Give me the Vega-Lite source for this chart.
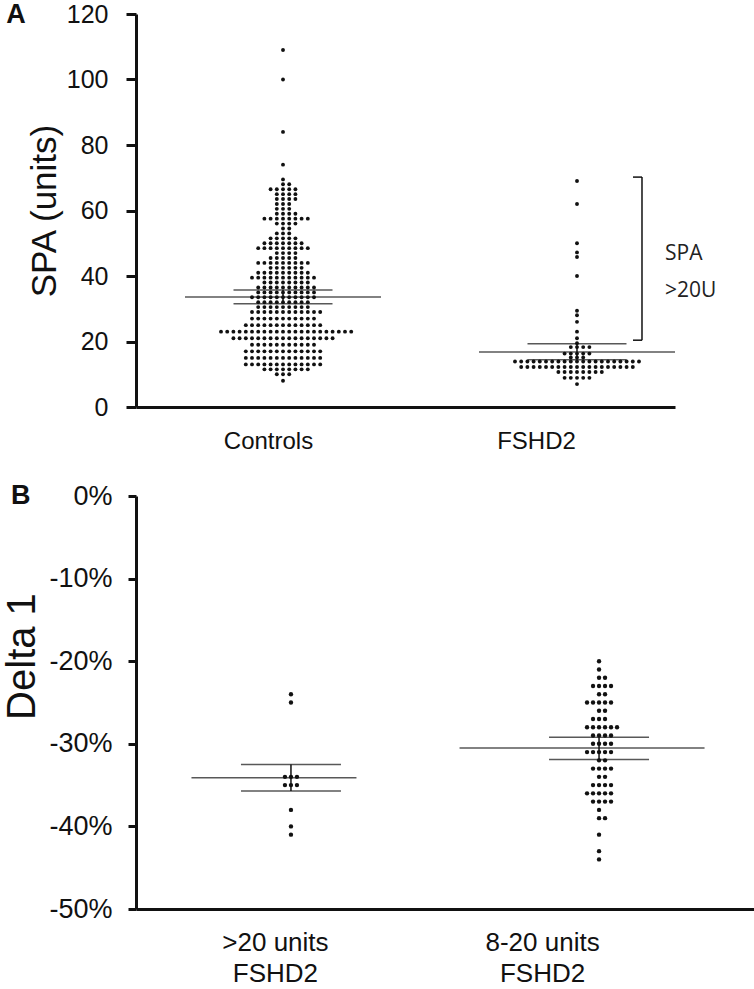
{
"$schema":"https://vega.github.io/schema/vega-lite/v6.json",
"background":"white",
"padding":{"left":2,"top":1,"right":0,"bottom":0},
"config":{"view":{"stroke":null},"font":"Liberation Sans","axis":{"grid":false,"domainColor":"#111","tickColor":"#111","labelColor":"#111","titleColor":"#111","titleFontWeight":"normal","domainWidth":3,"tickWidth":3},"title":{"color":"#111"}},
"spacing":29,
"datasets":{
"spa":[
{"group":"Controls","spa":109},{"group":"Controls","spa":100},{"group":"Controls","spa":84},{"group":"Controls","spa":74},{"group":"Controls","spa":69.5},{"group":"Controls","spa":68},{"group":"Controls","spa":68},
{"group":"Controls","spa":66.5},{"group":"Controls","spa":66.5},{"group":"Controls","spa":66.5},{"group":"Controls","spa":66.5},{"group":"Controls","spa":66.5},
{"group":"Controls","spa":65},{"group":"Controls","spa":65},{"group":"Controls","spa":65},{"group":"Controls","spa":65},
{"group":"Controls","spa":63.5},{"group":"Controls","spa":63.5},{"group":"Controls","spa":63.5},{"group":"Controls","spa":63.5},
{"group":"Controls","spa":62},{"group":"Controls","spa":62},{"group":"Controls","spa":62},
{"group":"Controls","spa":60.5},{"group":"Controls","spa":60.5},{"group":"Controls","spa":60.5},
{"group":"Controls","spa":59},{"group":"Controls","spa":59},{"group":"Controls","spa":59},{"group":"Controls","spa":59},
{"group":"Controls","spa":57.5},{"group":"Controls","spa":57.5},{"group":"Controls","spa":57.5},{"group":"Controls","spa":57.5},{"group":"Controls","spa":57.5},{"group":"Controls","spa":57.5},{"group":"Controls","spa":57.5},{"group":"Controls","spa":57.5},
{"group":"Controls","spa":56},{"group":"Controls","spa":56},{"group":"Controls","spa":56},{"group":"Controls","spa":56},
{"group":"Controls","spa":54.5},{"group":"Controls","spa":54.5},
{"group":"Controls","spa":53},{"group":"Controls","spa":53},{"group":"Controls","spa":53},
{"group":"Controls","spa":51.5},{"group":"Controls","spa":51.5},{"group":"Controls","spa":51.5},{"group":"Controls","spa":51.5},{"group":"Controls","spa":51.5},
{"group":"Controls","spa":50},{"group":"Controls","spa":50},{"group":"Controls","spa":50},{"group":"Controls","spa":50},{"group":"Controls","spa":50},{"group":"Controls","spa":50},{"group":"Controls","spa":50},
{"group":"Controls","spa":48.5},{"group":"Controls","spa":48.5},{"group":"Controls","spa":48.5},{"group":"Controls","spa":48.5},{"group":"Controls","spa":48.5},{"group":"Controls","spa":48.5},{"group":"Controls","spa":48.5},{"group":"Controls","spa":48.5},{"group":"Controls","spa":48.5},
{"group":"Controls","spa":47},{"group":"Controls","spa":47},{"group":"Controls","spa":47},{"group":"Controls","spa":47},
{"group":"Controls","spa":45.5},{"group":"Controls","spa":45.5},{"group":"Controls","spa":45.5},{"group":"Controls","spa":45.5},{"group":"Controls","spa":45.5},
{"group":"Controls","spa":44},{"group":"Controls","spa":44},{"group":"Controls","spa":44},{"group":"Controls","spa":44},{"group":"Controls","spa":44},{"group":"Controls","spa":44},{"group":"Controls","spa":44},{"group":"Controls","spa":44},{"group":"Controls","spa":44},
{"group":"Controls","spa":42.5},{"group":"Controls","spa":42.5},{"group":"Controls","spa":42.5},{"group":"Controls","spa":42.5},{"group":"Controls","spa":42.5},{"group":"Controls","spa":42.5},
{"group":"Controls","spa":41},{"group":"Controls","spa":41},{"group":"Controls","spa":41},{"group":"Controls","spa":41},{"group":"Controls","spa":41},{"group":"Controls","spa":41},{"group":"Controls","spa":41},{"group":"Controls","spa":41},{"group":"Controls","spa":41},
{"group":"Controls","spa":39.5},{"group":"Controls","spa":39.5},{"group":"Controls","spa":39.5},{"group":"Controls","spa":39.5},{"group":"Controls","spa":39.5},{"group":"Controls","spa":39.5},{"group":"Controls","spa":39.5},{"group":"Controls","spa":39.5},{"group":"Controls","spa":39.5},{"group":"Controls","spa":39.5},{"group":"Controls","spa":39.5},
{"group":"Controls","spa":38},{"group":"Controls","spa":38},{"group":"Controls","spa":38},{"group":"Controls","spa":38},{"group":"Controls","spa":38},{"group":"Controls","spa":38},{"group":"Controls","spa":38},{"group":"Controls","spa":38},
{"group":"Controls","spa":36.5},{"group":"Controls","spa":36.5},{"group":"Controls","spa":36.5},{"group":"Controls","spa":36.5},{"group":"Controls","spa":36.5},{"group":"Controls","spa":36.5},{"group":"Controls","spa":36.5},{"group":"Controls","spa":36.5},{"group":"Controls","spa":36.5},{"group":"Controls","spa":36.5},
{"group":"Controls","spa":35},{"group":"Controls","spa":35},{"group":"Controls","spa":35},{"group":"Controls","spa":35},{"group":"Controls","spa":35},{"group":"Controls","spa":35},{"group":"Controls","spa":35},{"group":"Controls","spa":35},{"group":"Controls","spa":35},{"group":"Controls","spa":35},
{"group":"Controls","spa":33.5},{"group":"Controls","spa":33.5},{"group":"Controls","spa":33.5},{"group":"Controls","spa":33.5},{"group":"Controls","spa":33.5},{"group":"Controls","spa":33.5},{"group":"Controls","spa":33.5},{"group":"Controls","spa":33.5},{"group":"Controls","spa":33.5},{"group":"Controls","spa":33.5},{"group":"Controls","spa":33.5},
{"group":"Controls","spa":32},{"group":"Controls","spa":32},{"group":"Controls","spa":32},{"group":"Controls","spa":32},{"group":"Controls","spa":32},{"group":"Controls","spa":32},{"group":"Controls","spa":32},{"group":"Controls","spa":32},{"group":"Controls","spa":32},
{"group":"Controls","spa":30.5},{"group":"Controls","spa":30.5},{"group":"Controls","spa":30.5},{"group":"Controls","spa":30.5},{"group":"Controls","spa":30.5},{"group":"Controls","spa":30.5},{"group":"Controls","spa":30.5},{"group":"Controls","spa":30.5},{"group":"Controls","spa":30.5},
{"group":"Controls","spa":29},{"group":"Controls","spa":29},{"group":"Controls","spa":29},{"group":"Controls","spa":29},{"group":"Controls","spa":29},{"group":"Controls","spa":29},{"group":"Controls","spa":29},{"group":"Controls","spa":29},{"group":"Controls","spa":29},{"group":"Controls","spa":29},{"group":"Controls","spa":29},{"group":"Controls","spa":29},
{"group":"Controls","spa":27},{"group":"Controls","spa":27},{"group":"Controls","spa":27},{"group":"Controls","spa":27},{"group":"Controls","spa":27},{"group":"Controls","spa":27},{"group":"Controls","spa":27},{"group":"Controls","spa":27},{"group":"Controls","spa":27},{"group":"Controls","spa":27},{"group":"Controls","spa":27},
{"group":"Controls","spa":25},{"group":"Controls","spa":25},{"group":"Controls","spa":25},{"group":"Controls","spa":25},{"group":"Controls","spa":25},{"group":"Controls","spa":25},{"group":"Controls","spa":25},{"group":"Controls","spa":25},{"group":"Controls","spa":25},{"group":"Controls","spa":25},{"group":"Controls","spa":25},{"group":"Controls","spa":25},{"group":"Controls","spa":25},
{"group":"Controls","spa":23},{"group":"Controls","spa":23},{"group":"Controls","spa":23},{"group":"Controls","spa":23},{"group":"Controls","spa":23},{"group":"Controls","spa":23},{"group":"Controls","spa":23},{"group":"Controls","spa":23},{"group":"Controls","spa":23},{"group":"Controls","spa":23},{"group":"Controls","spa":23},{"group":"Controls","spa":23},{"group":"Controls","spa":23},{"group":"Controls","spa":23},{"group":"Controls","spa":23},{"group":"Controls","spa":23},{"group":"Controls","spa":23},{"group":"Controls","spa":23},{"group":"Controls","spa":23},{"group":"Controls","spa":23},{"group":"Controls","spa":23},{"group":"Controls","spa":23},
{"group":"Controls","spa":21},{"group":"Controls","spa":21},{"group":"Controls","spa":21},{"group":"Controls","spa":21},{"group":"Controls","spa":21},{"group":"Controls","spa":21},{"group":"Controls","spa":21},{"group":"Controls","spa":21},{"group":"Controls","spa":21},{"group":"Controls","spa":21},{"group":"Controls","spa":21},{"group":"Controls","spa":21},{"group":"Controls","spa":21},{"group":"Controls","spa":21},{"group":"Controls","spa":21},{"group":"Controls","spa":21},{"group":"Controls","spa":21},
{"group":"Controls","spa":19},{"group":"Controls","spa":19},{"group":"Controls","spa":19},{"group":"Controls","spa":19},{"group":"Controls","spa":19},{"group":"Controls","spa":19},{"group":"Controls","spa":19},{"group":"Controls","spa":19},{"group":"Controls","spa":19},{"group":"Controls","spa":19},{"group":"Controls","spa":19},
{"group":"Controls","spa":17},{"group":"Controls","spa":17},{"group":"Controls","spa":17},{"group":"Controls","spa":17},{"group":"Controls","spa":17},{"group":"Controls","spa":17},{"group":"Controls","spa":17},{"group":"Controls","spa":17},{"group":"Controls","spa":17},{"group":"Controls","spa":17},{"group":"Controls","spa":17},{"group":"Controls","spa":17},{"group":"Controls","spa":17},
{"group":"Controls","spa":15},{"group":"Controls","spa":15},{"group":"Controls","spa":15},{"group":"Controls","spa":15},{"group":"Controls","spa":15},{"group":"Controls","spa":15},{"group":"Controls","spa":15},{"group":"Controls","spa":15},{"group":"Controls","spa":15},{"group":"Controls","spa":15},{"group":"Controls","spa":15},{"group":"Controls","spa":15},{"group":"Controls","spa":15},
{"group":"Controls","spa":13},{"group":"Controls","spa":13},{"group":"Controls","spa":13},{"group":"Controls","spa":13},{"group":"Controls","spa":13},{"group":"Controls","spa":13},{"group":"Controls","spa":13},{"group":"Controls","spa":13},{"group":"Controls","spa":13},{"group":"Controls","spa":13},{"group":"Controls","spa":13},{"group":"Controls","spa":13},{"group":"Controls","spa":13},
{"group":"Controls","spa":11.5},{"group":"Controls","spa":11.5},{"group":"Controls","spa":11.5},{"group":"Controls","spa":11.5},{"group":"Controls","spa":11.5},{"group":"Controls","spa":11.5},{"group":"Controls","spa":11.5},{"group":"Controls","spa":11.5},
{"group":"Controls","spa":10},{"group":"Controls","spa":10},{"group":"Controls","spa":10},
{"group":"Controls","spa":8},
{"group":"FSHD2","spa":69},{"group":"FSHD2","spa":62},{"group":"FSHD2","spa":50},{"group":"FSHD2","spa":47.2},{"group":"FSHD2","spa":45.8},{"group":"FSHD2","spa":40},{"group":"FSHD2","spa":29.4},{"group":"FSHD2","spa":28},{"group":"FSHD2","spa":26},{"group":"FSHD2","spa":23},{"group":"FSHD2","spa":21},{"group":"FSHD2","spa":19.5},
{"group":"FSHD2","spa":18.3},{"group":"FSHD2","spa":18.3},{"group":"FSHD2","spa":18.3},{"group":"FSHD2","spa":18.3},
{"group":"FSHD2","spa":16.3},{"group":"FSHD2","spa":16.3},{"group":"FSHD2","spa":16.3},{"group":"FSHD2","spa":16.3},{"group":"FSHD2","spa":16.3},
{"group":"FSHD2","spa":15.1},{"group":"FSHD2","spa":15.1},{"group":"FSHD2","spa":15.1},
{"group":"FSHD2","spa":13.9},{"group":"FSHD2","spa":13.9},{"group":"FSHD2","spa":13.9},{"group":"FSHD2","spa":13.9},{"group":"FSHD2","spa":13.9},{"group":"FSHD2","spa":13.9},{"group":"FSHD2","spa":13.9},{"group":"FSHD2","spa":13.9},{"group":"FSHD2","spa":13.9},{"group":"FSHD2","spa":13.9},{"group":"FSHD2","spa":13.9},{"group":"FSHD2","spa":13.9},{"group":"FSHD2","spa":13.9},{"group":"FSHD2","spa":13.9},{"group":"FSHD2","spa":13.9},{"group":"FSHD2","spa":13.9},{"group":"FSHD2","spa":13.9},{"group":"FSHD2","spa":13.9},{"group":"FSHD2","spa":13.9},{"group":"FSHD2","spa":13.9},{"group":"FSHD2","spa":13.9},
{"group":"FSHD2","spa":12.2},{"group":"FSHD2","spa":12.2},{"group":"FSHD2","spa":12.2},{"group":"FSHD2","spa":12.2},{"group":"FSHD2","spa":12.2},{"group":"FSHD2","spa":12.2},{"group":"FSHD2","spa":12.2},{"group":"FSHD2","spa":12.2},{"group":"FSHD2","spa":12.2},{"group":"FSHD2","spa":12.2},{"group":"FSHD2","spa":12.2},{"group":"FSHD2","spa":12.2},{"group":"FSHD2","spa":12.2},{"group":"FSHD2","spa":12.2},{"group":"FSHD2","spa":12.2},{"group":"FSHD2","spa":12.2},{"group":"FSHD2","spa":12.2},{"group":"FSHD2","spa":12.2},{"group":"FSHD2","spa":12.2},
{"group":"FSHD2","spa":10.7},{"group":"FSHD2","spa":10.7},{"group":"FSHD2","spa":10.7},{"group":"FSHD2","spa":10.7},{"group":"FSHD2","spa":10.7},{"group":"FSHD2","spa":10.7},{"group":"FSHD2","spa":10.7},{"group":"FSHD2","spa":10.7},
{"group":"FSHD2","spa":8.9},{"group":"FSHD2","spa":8.9},{"group":"FSHD2","spa":8.9},{"group":"FSHD2","spa":8.9},{"group":"FSHD2","spa":8.9},
{"group":"FSHD2","spa":7}
],
"spaStats":[
{"group":"Controls","mean":33.6,"lo":31.5,"hi":35.7},
{"group":"FSHD2","mean":16.8,"lo":14.4,"hi":19.3}
],
"delta":[
{"group":">20 units FSHD2","delta":-24},{"group":">20 units FSHD2","delta":-25},
{"group":">20 units FSHD2","delta":-34},{"group":">20 units FSHD2","delta":-34},{"group":">20 units FSHD2","delta":-34},
{"group":">20 units FSHD2","delta":-35},{"group":">20 units FSHD2","delta":-35},{"group":">20 units FSHD2","delta":-35},
{"group":">20 units FSHD2","delta":-38},{"group":">20 units FSHD2","delta":-40},{"group":">20 units FSHD2","delta":-41},
{"group":"8-20 units FSHD2","delta":-20},{"group":"8-20 units FSHD2","delta":-21},
{"group":"8-20 units FSHD2","delta":-22},{"group":"8-20 units FSHD2","delta":-22},
{"group":"8-20 units FSHD2","delta":-23},{"group":"8-20 units FSHD2","delta":-23},{"group":"8-20 units FSHD2","delta":-23},{"group":"8-20 units FSHD2","delta":-23},
{"group":"8-20 units FSHD2","delta":-24},{"group":"8-20 units FSHD2","delta":-24},
{"group":"8-20 units FSHD2","delta":-25},{"group":"8-20 units FSHD2","delta":-25},{"group":"8-20 units FSHD2","delta":-25},{"group":"8-20 units FSHD2","delta":-25},{"group":"8-20 units FSHD2","delta":-25},
{"group":"8-20 units FSHD2","delta":-26},{"group":"8-20 units FSHD2","delta":-26},
{"group":"8-20 units FSHD2","delta":-27},{"group":"8-20 units FSHD2","delta":-27},{"group":"8-20 units FSHD2","delta":-27},
{"group":"8-20 units FSHD2","delta":-28},{"group":"8-20 units FSHD2","delta":-28},{"group":"8-20 units FSHD2","delta":-28},{"group":"8-20 units FSHD2","delta":-28},{"group":"8-20 units FSHD2","delta":-28},{"group":"8-20 units FSHD2","delta":-28},
{"group":"8-20 units FSHD2","delta":-29},{"group":"8-20 units FSHD2","delta":-29},{"group":"8-20 units FSHD2","delta":-29},{"group":"8-20 units FSHD2","delta":-29},
{"group":"8-20 units FSHD2","delta":-30},{"group":"8-20 units FSHD2","delta":-30},{"group":"8-20 units FSHD2","delta":-30},{"group":"8-20 units FSHD2","delta":-30},
{"group":"8-20 units FSHD2","delta":-31},{"group":"8-20 units FSHD2","delta":-31},{"group":"8-20 units FSHD2","delta":-31},{"group":"8-20 units FSHD2","delta":-31},{"group":"8-20 units FSHD2","delta":-31},
{"group":"8-20 units FSHD2","delta":-32},{"group":"8-20 units FSHD2","delta":-32},
{"group":"8-20 units FSHD2","delta":-33},{"group":"8-20 units FSHD2","delta":-33},{"group":"8-20 units FSHD2","delta":-33},{"group":"8-20 units FSHD2","delta":-33},
{"group":"8-20 units FSHD2","delta":-34},{"group":"8-20 units FSHD2","delta":-34},
{"group":"8-20 units FSHD2","delta":-35},{"group":"8-20 units FSHD2","delta":-35},{"group":"8-20 units FSHD2","delta":-35},{"group":"8-20 units FSHD2","delta":-35},
{"group":"8-20 units FSHD2","delta":-36},{"group":"8-20 units FSHD2","delta":-36},{"group":"8-20 units FSHD2","delta":-36},{"group":"8-20 units FSHD2","delta":-36},{"group":"8-20 units FSHD2","delta":-36},
{"group":"8-20 units FSHD2","delta":-37},{"group":"8-20 units FSHD2","delta":-37},{"group":"8-20 units FSHD2","delta":-37},{"group":"8-20 units FSHD2","delta":-37},
{"group":"8-20 units FSHD2","delta":-38},
{"group":"8-20 units FSHD2","delta":-39},{"group":"8-20 units FSHD2","delta":-39},
{"group":"8-20 units FSHD2","delta":-41},{"group":"8-20 units FSHD2","delta":-43},{"group":"8-20 units FSHD2","delta":-44}
],
"deltaStats":[
{"group":">20 units FSHD2","mean":-34.1,"lo":-35.7,"hi":-32.5},
{"group":"8-20 units FSHD2","mean":-30.5,"lo":-31.9,"hi":-29.2}
]
},
"vconcat":[
{
"width":539,"height":393,
"title":{"text":"A","orient":"left","angle":0,"anchor":"end","align":"right","baseline":"top","frame":"group","offset":-18,"dy":-12,"fontSize":27,"fontWeight":"bold"},
"encoding":{"x":{"field":"group","type":"nominal","scale":{"type":"point","domain":["Controls","FSHD2"],"padding":0.4167,"align":0.6},"axis":{"title":null,"ticks":false,"labelFontSize":24,"labelPadding":22,"labelAngle":0,"labelOffset":{"condition":{"test":"datum.value === 'Controls'","value":-15},"value":-41}}}},
"layer":[
{"data":{"name":"spa"},"transform":[{"window":[{"op":"row_number","as":"r"}],"groupby":["group","spa"]},{"filter":"datum.r % 2 == 1"}],
"mark":{"type":"circle","size":15,"opacity":1,"color":"#111"},
"encoding":{"y":{"field":"spa","type":"quantitative","scale":{"domain":[0,120]},"title":"SPA (units)","axis":{"values":[0,20,40,60,80,100,120],"tickSize":10,"labelFontSize":25,"labelPadding":18,"titleFontSize":35,"titlePadding":4}},
"xOffset":{"field":"r","type":"quantitative","scale":{"domain":[1,41],"range":[0,-124]}}}},
{"data":{"name":"spa"},"transform":[{"window":[{"op":"row_number","as":"r"}],"groupby":["group","spa"]},{"filter":"datum.r % 2 == 0"}],
"mark":{"type":"circle","size":15,"opacity":1,"color":"#111"},
"encoding":{"y":{"field":"spa","type":"quantitative","title":"SPA (units)"},
"xOffset":{"field":"r","type":"quantitative","scale":{"domain":[0,40],"range":[0,124]}}}},
{"data":{"name":"spaStats"},"mark":{"type":"tick","size":196,"thickness":1.5,"color":"#111"},"encoding":{"y":{"field":"mean","type":"quantitative","title":"SPA (units)"}}},
{"data":{"name":"spaStats"},"mark":{"type":"tick","size":99,"thickness":1.5,"color":"#111"},"encoding":{"y":{"field":"hi","type":"quantitative","title":"SPA (units)"}}},
{"data":{"name":"spaStats"},"mark":{"type":"tick","size":99,"thickness":1.5,"color":"#111"},"encoding":{"y":{"field":"lo","type":"quantitative","title":"SPA (units)"}}},
{"data":{"name":"spaStats"},"mark":{"type":"rule","strokeWidth":1.5,"color":"#111"},"encoding":{"y":{"field":"lo","type":"quantitative","title":"SPA (units)"},"y2":{"field":"hi"}}},
{"data":{"name":"spaStats"},"transform":[{"filter":"datum.group === 'FSHD2'"}],"mark":{"type":"rule","xOffset":65,"strokeWidth":1.5,"color":"#111"},"encoding":{"y":{"datum":20.4,"type":"quantitative"},"y2":{"datum":70.2}}},
{"data":{"name":"spaStats"},"transform":[{"filter":"datum.group === 'FSHD2'"}],"mark":{"type":"rule","xOffset":56,"x2Offset":65,"strokeWidth":1.5,"color":"#111"},"encoding":{"x2":{"field":"group"},"y":{"datum":70.2,"type":"quantitative"}}},
{"data":{"name":"spaStats"},"transform":[{"filter":"datum.group === 'FSHD2'"}],"mark":{"type":"rule","xOffset":56,"x2Offset":65,"strokeWidth":1.5,"color":"#111"},"encoding":{"x2":{"field":"group"},"y":{"datum":20.4,"type":"quantitative"}}},
{"data":{"name":"spaStats"},"transform":[{"filter":"datum.group === 'FSHD2'"}],"mark":{"type":"text","text":["SPA",">20U"],"align":"left","baseline":"middle","xOffset":88,"fontSize":21,"lineHeight":37,"font":"Open Sans","color":"#222"},"encoding":{"y":{"datum":46.6,"type":"quantitative"}}}
],
"resolve":{"scale":{"xOffset":"independent"}}
},
{
"width":618,"height":413,
"title":{"text":"B","orient":"left","angle":0,"anchor":"end","align":"right","baseline":"top","frame":"group","offset":-47,"dy":-13,"fontSize":27,"fontWeight":"bold"},
"encoding":{"x":{"field":"group","type":"nominal","scale":{"type":"point","domain":[">20 units FSHD2","8-20 units FSHD2"],"padding":0.503,"align":0.5},"axis":{"title":null,"ticks":false,"labelFontSize":26,"labelLineHeight":31,"labelPadding":20,"labelAngle":0,"labelExpr":"[replace(datum.label, ' FSHD2', ''), 'FSHD2']","labelOffset":{"condition":{"test":"datum.value === '>20 units FSHD2'","value":-16},"value":-57}}}},
"layer":[
{"data":{"name":"delta"},"transform":[{"window":[{"op":"row_number","as":"r"}],"groupby":["group","delta"]},{"filter":"datum.r % 2 == 1"}],
"mark":{"type":"circle","size":19,"opacity":1,"color":"#111"},
"encoding":{"y":{"field":"delta","type":"quantitative","scale":{"domain":[-50,0]},"title":"Delta 1","axis":{"values":[-50,-40,-30,-20,-10,0],"labelExpr":"datum.value + '%'","tickSize":8,"labelFontSize":27,"labelPadding":16,"titleFontSize":40,"titlePadding":6,"titleY":160,"titleAlign":"center"}},
"xOffset":{"field":"r","type":"quantitative","scale":{"domain":[1,41],"range":[0,-120]}}}},
{"data":{"name":"delta"},"transform":[{"window":[{"op":"row_number","as":"r"}],"groupby":["group","delta"]},{"filter":"datum.r % 2 == 0"}],
"mark":{"type":"circle","size":19,"opacity":1,"color":"#111"},
"encoding":{"y":{"field":"delta","type":"quantitative","title":"Delta 1"},
"xOffset":{"field":"r","type":"quantitative","scale":{"domain":[0,40],"range":[0,120]}}}},
{"data":{"name":"deltaStats"},"mark":{"type":"tick","thickness":1.5,"color":"#111"},"encoding":{"y":{"field":"mean","type":"quantitative","title":"Delta 1"},"size":{"condition":{"test":"datum.group === '>20 units FSHD2'","value":165},"value":245},"xOffset":{"condition":{"test":"datum.group === '>20 units FSHD2'","value":-6},"value":-17}}},
{"data":{"name":"deltaStats"},"mark":{"type":"tick","size":100,"thickness":1.5,"color":"#111"},"encoding":{"y":{"field":"hi","type":"quantitative","title":"Delta 1"}}},
{"data":{"name":"deltaStats"},"mark":{"type":"tick","size":100,"thickness":1.5,"color":"#111"},"encoding":{"y":{"field":"lo","type":"quantitative","title":"Delta 1"}}},
{"data":{"name":"deltaStats"},"mark":{"type":"rule","strokeWidth":1.5,"color":"#111"},"encoding":{"y":{"field":"lo","type":"quantitative","title":"Delta 1"},"y2":{"field":"hi"}}}
],
"resolve":{"scale":{"xOffset":"independent"}}
}
]
}
